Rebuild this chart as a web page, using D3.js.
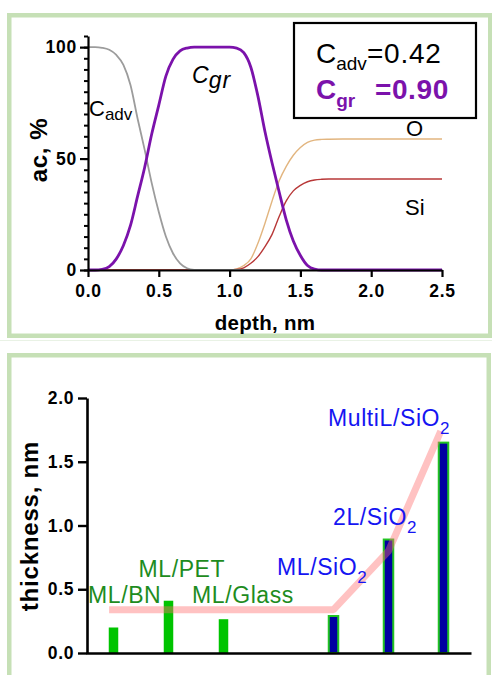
<!DOCTYPE html>
<html>
<head>
<meta charset="utf-8">
<title></title>
<script src="https://cdn.jsdelivr.net/npm/d3@7"></script>
<style>
body{margin:0;background:#fff;}
svg{display:block;font-family:"Liberation Sans",Arial,sans-serif;}
</style>
</head>
<body>
<script>
// top panel: composition vs depth (ac, %)
let depth=[0,0.05,0.1,0.15,0.2,0.25,0.3,0.35,0.4,0.45,0.5,0.55,0.6,0.65,0.7,0.75,0.8,0.85,0.9,0.95,
  1.0,1.05,1.1,1.15,1.2,1.25,1.3,1.35,1.4,1.45,1.5,1.55,1.6,1.65,1.7,1.8,2.0,2.5];
let cAdv=[100,100,99.7,98.8,96.5,92,83,68,54,39,26,15,7.5,3,0.8,0.1,0,0,0,0,
  0,0,0,0,0,0,0,0,0,0,0,0,0,0,0,0,0,0];
let cGr=[0,0,0.3,1.5,5,11,20,33,46,61,74,87,94.5,98.3,99.6,100,100,100,100,100,
  100,99.6,97.5,91,78,62,48,35,22.5,13,6.5,2,0.4,0,0,0,0,0];
let oxy=[0,0,0,0,0,0,0,0,0,0,0,0,0,0,0,0,0,0,0,0,
  0,0.5,2,5,12,21,31,40,46.5,51.5,55,57.3,58.3,58.6,58.7,58.8,58.8,58.8];
let si=[0,0,0,0,0,0,0,0,0,0,0,0,0,0,0,0,0,0,0,0,
  0,0.2,1,3,6,10.5,16,24,31,35.5,38,39.6,40.4,40.7,40.8,40.8,40.8,40.8];
let depthTicks=[0,0.5,1,1.5,2,2.5];
let acTicks=[0,50,100];

// bottom panel: thickness per sample
let barNames=['ML/BN','ML/PET','ML/Glass','ML/SiO2','2L/SiO2','MultiL/SiO2'];
let barSlots=[0,1,2,4,5,6];
let thickness=[0.20,0.41,0.265,0.29,0.89,1.65];
let onSiO2=[false,false,false,true,true,true];
let trendSlots=[-0.08,4,5,5.95];
let trendValues=[0.34,0.34,0.80,1.74];
let thickTicks=[0,0.5,1,1.5,2];

let purple='#7b12ab';
let font='"Liberation Sans",Arial,sans-serif';

let svg=d3.select('body').append('svg').attr('width',492).attr('height',675);

// frames
svg.append('line').attr('x1',0).attr('x2',492).attr('y1',340.5).attr('y2',340.5)
  .attr('stroke','#e9f2e5').attr('stroke-width',1);
svg.append('rect').attr('x',9.25).attr('y',15.25).attr('width',481).attr('height',320.5)
  .attr('fill','none').attr('stroke','#c6e0b6').attr('stroke-width',4.5);
svg.append('rect').attr('x',9.25).attr('y',355.25).attr('width',479.5).attr('height',400)
  .attr('fill','none').attr('stroke','#c6e0b6').attr('stroke-width',4.5);

//---------- top chart
let xTop=d3.scaleLinear().domain([0,2.5]).range([88,442]);
let yTop=d3.scaleLinear().domain([0,105]).range([270,36]);

let line=d3.line()
  .x((d,i)=>xTop(depth[i]))
  .y(d=>yTop(d))
  .curve(d3.curveMonotoneX);

let gTop=svg.append('g');
gTop.append('path').attr('d',line(oxy)).attr('fill','none').attr('stroke','#e2b57f').attr('stroke-width',1.4);
gTop.append('path').attr('d',line(si)).attr('fill','none').attr('stroke','#b83838').attr('stroke-width',1.4);
gTop.append('path').attr('d',line(cAdv)).attr('fill','none').attr('stroke','#9c9c9c').attr('stroke-width',1.8);
gTop.append('path').attr('d',line(cGr)).attr('fill','none').attr('stroke',purple).attr('stroke-width',2.8);

// axes
let yMinor=gTop.append('g').attr('transform','translate(88,0)')
  .call(d3.axisLeft(yTop).tickValues(d3.range(0,106,5)).tickSize(4).tickFormat(''));
yMinor.select('.domain').remove();
yMinor.selectAll('line').attr('stroke-width',2);

let yAx=gTop.append('g').attr('transform','translate(88,0)')
  .call(d3.axisLeft(yTop).tickValues(acTicks).tickSize(8).tickPadding(3).tickSizeOuter(0));
let xAx=gTop.append('g').attr('transform','translate(0,270)')
  .call(d3.axisBottom(xTop).tickValues(depthTicks).tickFormat(d3.format('.1f')).tickSize(7).tickPadding(8).tickSizeOuter(0));

[yAx,xAx].forEach(a=>{
  a.select('.domain').attr('stroke-width',2.2);
  a.selectAll('line').attr('stroke-width',2.2);
  a.selectAll('text').attr('font-size',17.5).attr('font-weight','bold').attr('fill','#000')
    .attr('font-family',font).style('letter-spacing','0.8px');
});

gTop.append('text').attr('transform','translate(47,150) rotate(-90)').attr('text-anchor','middle')
  .attr('font-size',24).attr('font-weight','bold').style('letter-spacing','0.6px').text('ac, %');
gTop.append('text').attr('x',265).attr('y',330).attr('text-anchor','middle')
  .attr('font-size',20.5).attr('font-weight','bold').style('letter-spacing','0.3px').text('depth, nm');

// curve labels
let tAdv=gTop.append('text').attr('x',89).attr('y',116).attr('font-size',22);
tAdv.append('tspan').text('C');
tAdv.append('tspan').attr('dy',4).attr('font-size',17).text('adv');

let tGr=gTop.append('text').attr('x',192).attr('y',83).attr('font-size',23).attr('font-style','italic');
tGr.append('tspan').text('C');
tGr.append('tspan').attr('dy',5).style('letter-spacing','1px').text('gr');

gTop.append('text').attr('x',406).attr('y',136).attr('font-size',22).text('O');
gTop.append('text').attr('x',405).attr('y',215).attr('font-size',22).text('Si');

// legend box
gTop.append('rect').attr('x',294).attr('y',23).attr('width',182).attr('height',95)
  .attr('fill','#fff').attr('stroke','#000').attr('stroke-width',2.2);
let l1=gTop.append('text').attr('x',316).attr('y',63).attr('font-size',28);
l1.append('tspan').text('C');
l1.append('tspan').attr('dy',7).attr('font-size',19).text('adv');
l1.append('tspan').attr('dy',-7).style('letter-spacing','0.8px').text('=0.42');
let l2=gTop.append('text').attr('x',316).attr('y',99).attr('font-size',28).attr('font-weight','bold').attr('fill',purple);
l2.append('tspan').text('C');
l2.append('tspan').attr('dy',8).attr('font-size',19).text('gr');
l2.append('tspan').attr('x',375).attr('dy',-8).style('letter-spacing','0.6px').text('=0.90');

//---------- bottom chart
let xBot=d3.scaleLinear().domain([-0.5,6.5]).range([86,471]);
let yBot=d3.scaleLinear().domain([0,2]).range([653,398]);
let barW=9.5;

let gBot=svg.append('g');

let bars=barNames.map((n,i)=>({name:n,slot:barSlots[i],v:thickness[i],si:onSiO2[i]}));

gBot.selectAll('rect.bar').data(bars).enter().append('rect')
  .attr('class','bar')
  .attr('x',d=>xBot(d.slot)-barW/2)
  .attr('y',d=>yBot(d.v))
  .attr('width',barW)
  .attr('height',d=>yBot(0)-yBot(d.v))
  .attr('fill',d=>d.si?'#0000a2':'#00c400')
  .attr('stroke',d=>d.si?'#22c422':'none')
  .attr('stroke-width',2);

let trend=d3.line().x((d,i)=>xBot(trendSlots[i])).y(d=>yBot(d));
gBot.append('path').attr('d',trend(trendValues)).attr('fill','none')
  .attr('stroke','#ff6e6e').attr('stroke-opacity',0.42).attr('stroke-width',7).attr('stroke-linejoin','bevel');

let yBotAx=gBot.append('g').attr('transform','translate(87,0)')
  .call(d3.axisLeft(yBot).tickValues(thickTicks).tickFormat(d3.format('.1f')).tickSize(9).tickPadding(4).tickSizeOuter(0));
let xBotAx=gBot.append('g').attr('transform','translate(0,653)')
  .call(d3.axisBottom(xBot).tickValues([]).tickSizeOuter(0));
[yBotAx,xBotAx].forEach(a=>{
  a.select('.domain').attr('stroke-width',2.6);
  a.selectAll('line').attr('stroke-width',2.4);
  a.selectAll('text').attr('font-size',17.5).attr('font-weight','bold').attr('fill','#000')
    .attr('font-family',font).style('letter-spacing','0.6px');
});

gBot.append('text').attr('transform','translate(38,526) rotate(-90)').attr('text-anchor','middle')
  .attr('font-size',24).attr('font-weight','bold').style('letter-spacing','0.8px').text('thickness, nm');

// sample labels
let labelDx=[-25.5,-30,-31.5,-56.5,-55.5,-115.5];
let labelY=[603,577,603,575,525,426];
bars.forEach((d,i)=>{
  let t=gBot.append('text').attr('x',xBot(d.slot)+labelDx[i]).attr('y',labelY[i])
    .attr('font-size',23).style('letter-spacing','0.6px')
    .attr('fill',d.si?'#1515f2':'#1e8c1e');
  if(d.name.endsWith('SiO2')){
    t.append('tspan').text(d.name.slice(0,-1));
    t.append('tspan').attr('dy',8).attr('font-size',17).text('2');
  }else{
    t.text(d.name);
  }
});
</script>
</body>
</html>
